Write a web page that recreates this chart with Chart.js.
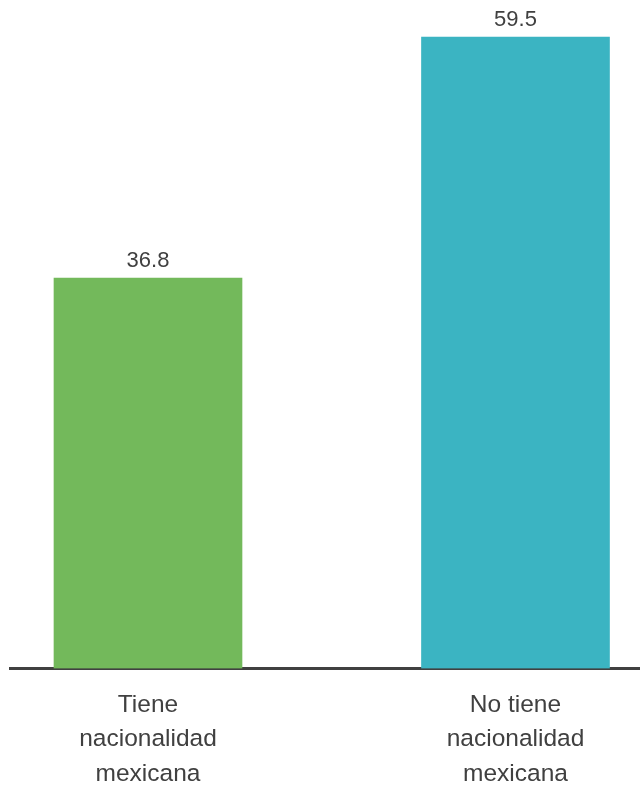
<!DOCTYPE html>
<html>
<head>
<meta charset="utf-8">
<script src="https://cdn.jsdelivr.net/npm/chart.js@4"></script>
<style>
  html, body { margin: 0; padding: 0; background: #ffffff; }
  #wrap { width: 640px; height: 785px; }
</style>
</head>
<body>
<div id="wrap"><canvas id="myChart" width="640" height="785"></canvas></div>
<script>
// Category names (each one split in lines as in the picture)
const categories = [
    ['Tiene', 'nacionalidad', 'mexicana'],
    ['No tiene', 'nacionalidad', 'mexicana']
];

// Percentages for each bar
const values = [36.8, 59.5];

// Bar colours
const barColors = ['#73b95b', '#3bb4c2'];

// Value labels on top of each bar
const valueLabels = {
    id: 'valueLabels',
    afterDatasetsDraw(chart) {
        const ctx = chart.ctx;
        const meta = chart.getDatasetMeta(0);
        ctx.save();
        ctx.font = '22px "Liberation Sans", Arial, sans-serif';
        ctx.fillStyle = '#404040';
        ctx.textAlign = 'center';
        ctx.textBaseline = 'alphabetic';
        meta.data.forEach((bar, i) => {
            ctx.fillText(values[i].toFixed(1), bar.x, bar.y - 11);
        });
        ctx.restore();
    }
};

const ctx = document.getElementById('myChart');

new Chart(ctx, {
    type: 'bar',
    data: {
        datasets: [{
            data: values.map((v, i) => ({ x: i, y: v })),
            backgroundColor: barColors,
            borderWidth: 0,
            barThickness: 188
        }]
    },
    options: {
        responsive: false,
        maintainAspectRatio: false,
        animation: false,
        layout: {
            padding: { left: 10, right: 0, top: 0, bottom: 0 }
        },
        plugins: {
            legend: { display: false },
            tooltip: { enabled: false }
        },
        scales: {
            x: {
                type: 'linear',
                min: -0.3755,
                max: 1.3388,
                offset: false,
                bounds: 'data',
                grid: { display: false, drawTicks: false, offset: false },
                border: { display: true, color: '#404040', width: 3 },
                afterBuildTicks: (axis) => {
                    axis.ticks = categories.map((c, i) => ({ value: i }));
                },
                afterFit: (axis) => {
                    axis.height = 116.5;
                },
                ticks: {
                    autoSkip: false,
                    maxRotation: 0,
                    padding: 19,
                    color: '#404040',
                    font: { family: '"Liberation Sans", Arial, sans-serif', size: 24.5, lineHeight: 1.41 },
                    callback: (value) => categories[value]
                }
            },
            y: {
                display: false,
                min: 0,
                max: 63
            }
        }
    },
    plugins: [valueLabels]
});
</script>
</body>
</html>
